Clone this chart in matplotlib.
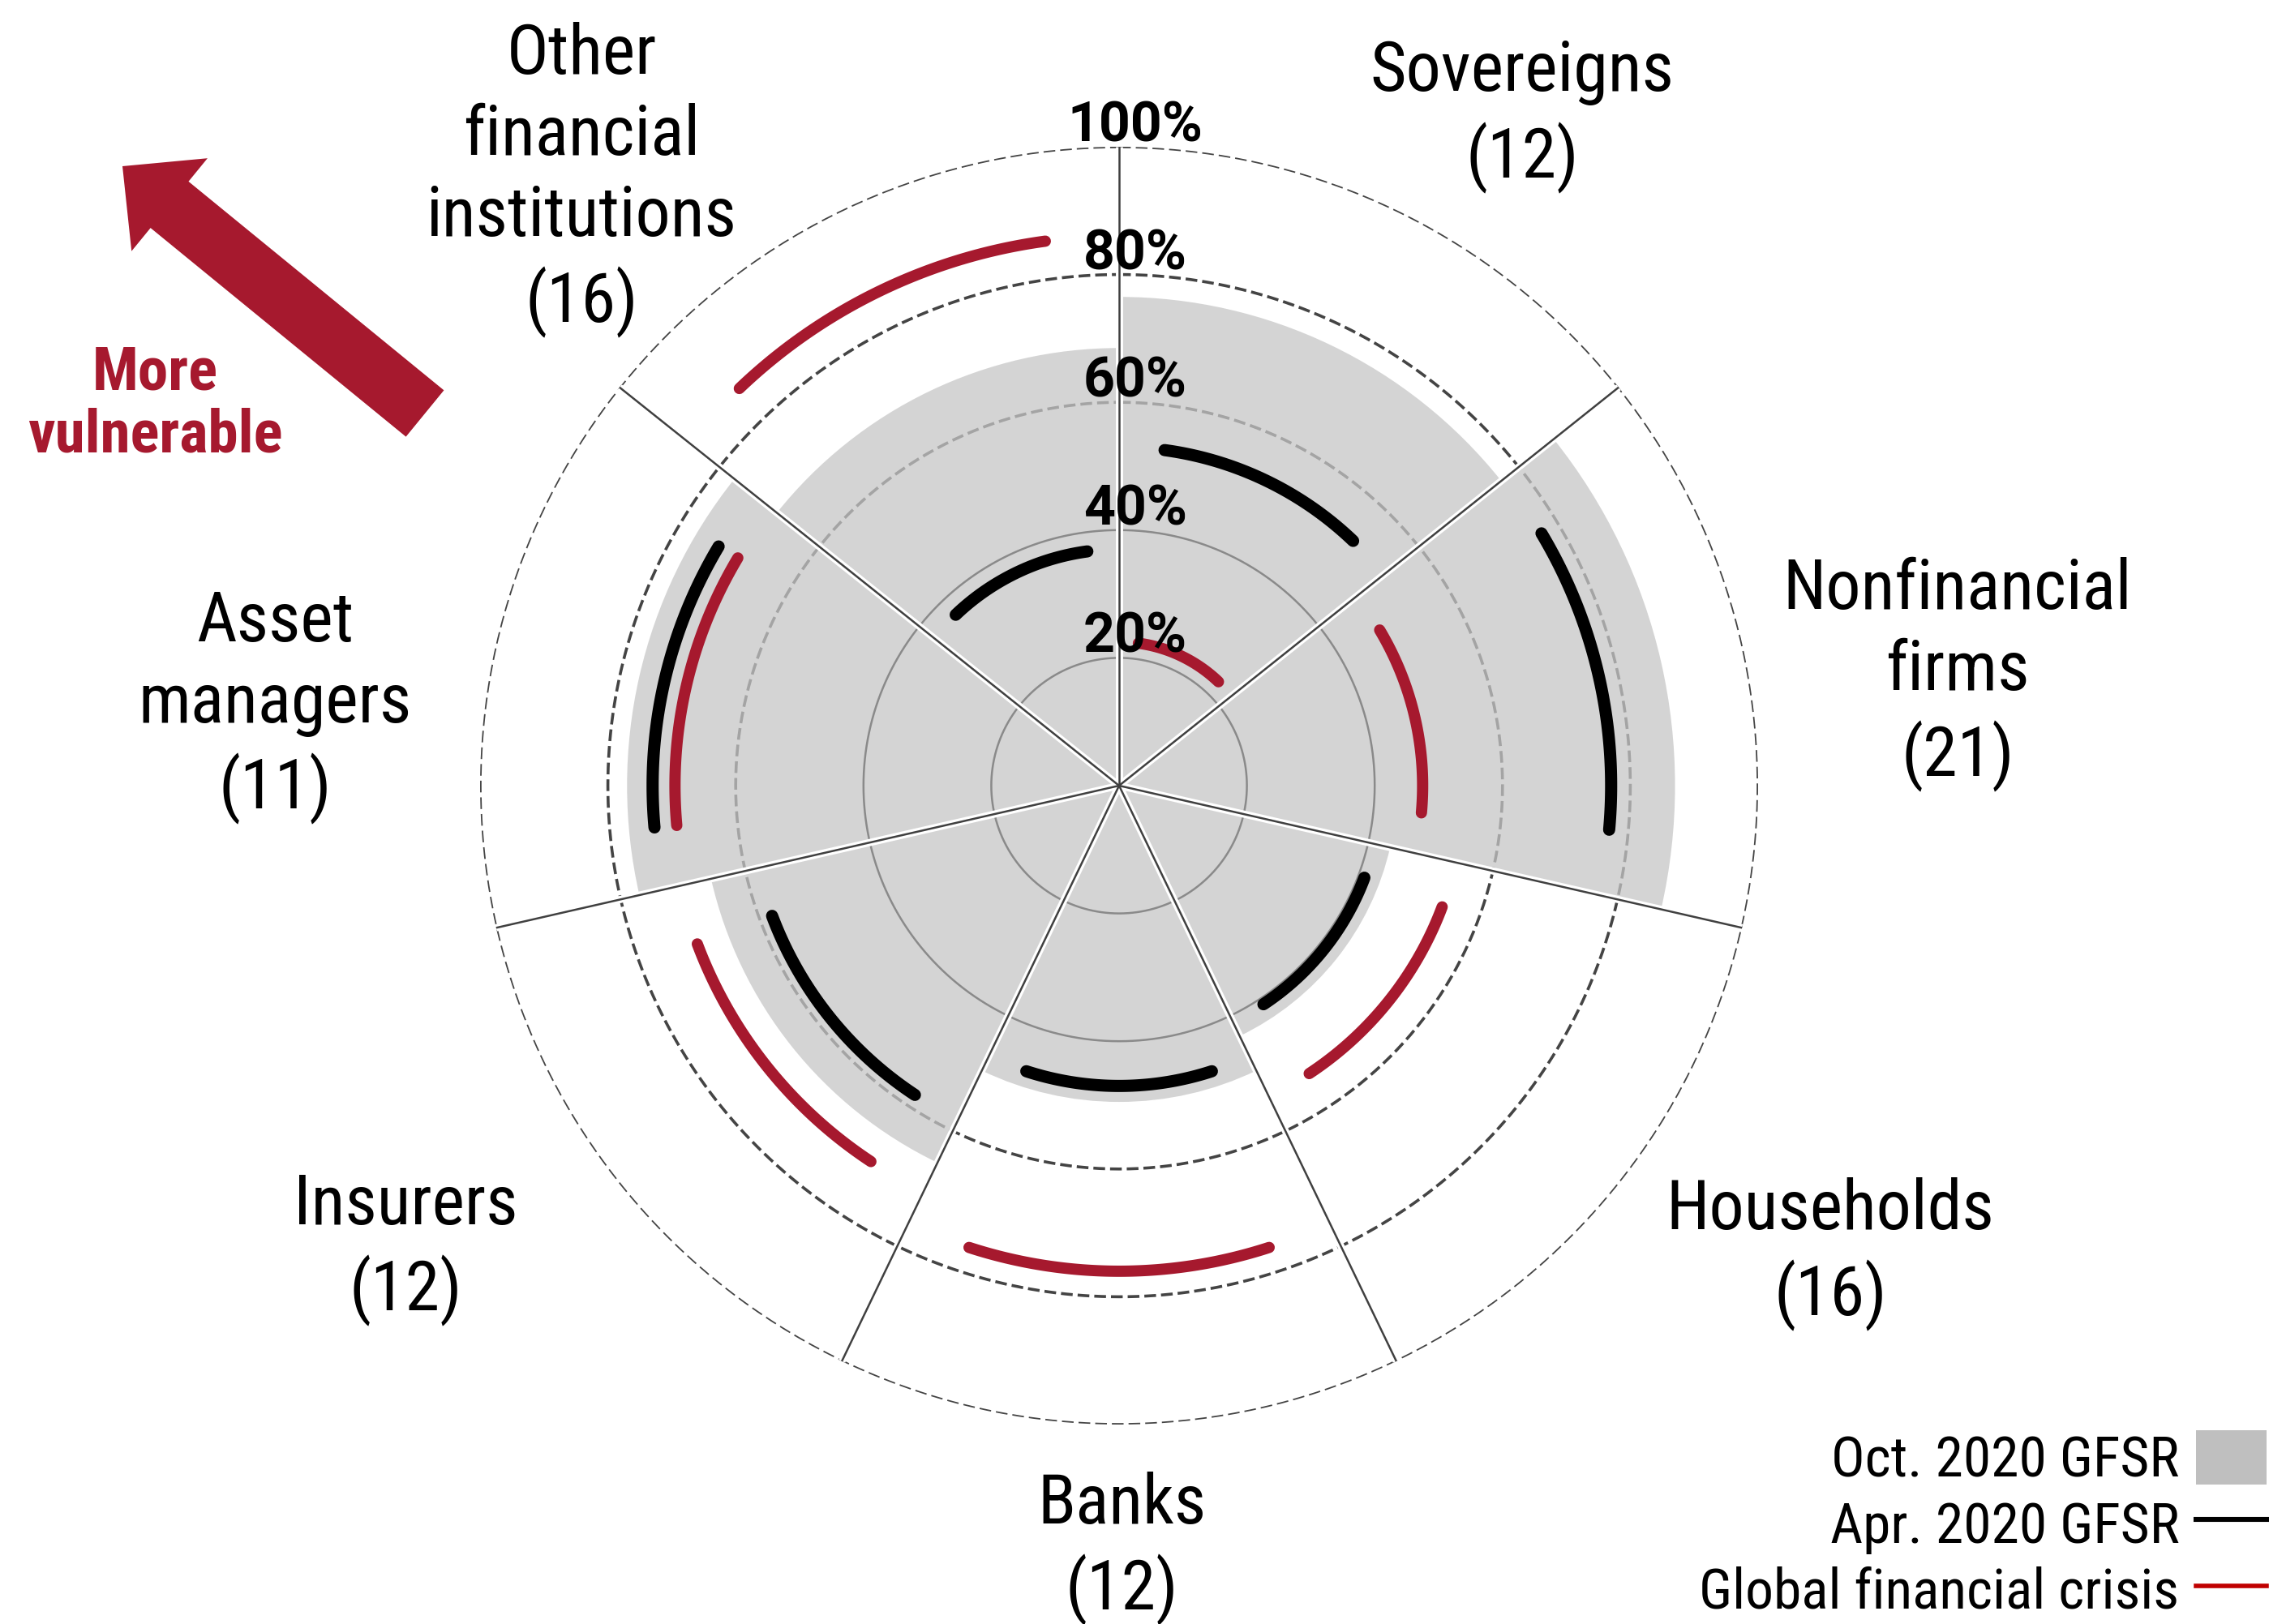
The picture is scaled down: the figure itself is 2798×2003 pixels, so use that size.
import numpy as np
import matplotlib
matplotlib.use("Agg")
import matplotlib.pyplot as plt
from matplotlib import transforms
from matplotlib.patches import FancyArrow, Patch
from matplotlib.lines import Line2D

# === DATA: share of countries with elevated vulnerabilities (%) ===
sectors = [
    "Sovereigns\n(12)", "Nonfinancial\nfirms\n(21)", "Households\n(16)", "Banks\n(12)",
    "Insurers\n(12)", "Asset\nmanagers\n(11)", "Other\nfinancial\ninstitutions\n(16)",
]
oct_2020 = [76.5, 87, 43.5, 49.5, 65.5, 77, 68.5]
apr_2020 = [53, 77, 41, 47, 58, 73, 37]
gfc = [22.5, 47.5, 54, 76, 70.5, 69.5, 86]
ring_ticks = [20, 40, 60, 80, 100]
legend_labels = ["Oct. 2020 GFSR", "Apr. 2020 GFSR", "Global financial crisis"]

# === LAYOUT (pixels of the 2798 x 2003 canvas) ===
W, H, DPI = 2798, 2003, 200
CX, CY, R = 1380, 969, 788
label_pos = [(1877, 144), (2414, 832), (2257, 1547), (1383, 1910),
             (500, 1541), (339, 872), (717, 222)]

GRAY = "#c6c6c6"
RED = "#a6192e"
# narrow sans first, the rest only as fallbacks
NARROW = ["Liberation Sans Narrow", "Roboto Condensed", "Arial Narrow", "Roboto", "DejaVu Sans"]
PCT_FONT = ["Roboto", "Liberation Sans", "DejaVu Sans"]


def fx(x):
    return x / W


def fy(y):
    return 1 - y / H


fig = plt.figure(figsize=(W / DPI, H / DPI), dpi=DPI)
fig.patch.set_facecolor("white")

# overlay axes in pixel coordinates for the annotations
over = fig.add_axes([0, 0, 1, 1])
over.set_xlim(0, W)
over.set_ylim(H, 0)
over.axis("off")

ax = fig.add_axes([fx(CX - R), fy(CY + R), 2 * R / W, 2 * R / H], projection="polar")
ax.set_theta_zero_location("N")
ax.set_theta_direction(-1)
ax.set_ylim(0, 100)
ax.axis("off")

n = len(sectors)
step = 2 * np.pi / n
centers = (np.arange(n) + 0.5) * step
full = np.linspace(0, 2 * np.pi, 721)

# dashed rings below the shading
for t in ring_ticks[2:]:
    ax.plot(full, np.full_like(full, t), color="#444444", lw=1.3,
            ls=(0, (4.0, 1.7)), zorder=1)

ax.bar(centers, oct_2020, width=step, color=GRAY, alpha=0.74, linewidth=0, zorder=2)

for t in ring_ticks[:2]:
    ax.plot(full, np.full_like(full, t), color="#8a8a8a", lw=0.9, zorder=3)

# sector separators
for k in range(n):
    a = k * step
    ax.plot([a, a], [0, 100], color="white", lw=3.2, zorder=4, solid_capstyle="butt")
    ax.plot([a, a], [0, 100], color="#404040", lw=0.9, zorder=5)

half = np.deg2rad(18)
for i in range(n):
    th = np.linspace(centers[i] - half, centers[i] + half, 80)
    ax.plot(th, np.full_like(th, apr_2020[i]), color="black", lw=5.4,
            solid_capstyle="round", zorder=6)
    ax.plot(th, np.full_like(th, gfc[i]), color=RED, lw=5.0,
            solid_capstyle="round", zorder=6)

lab_tr = transforms.offset_copy(ax.transData, fig=fig, x=20, y=25, units="dots")
for t in ring_ticks:
    ax.text(0, t, f"{t}%", transform=lab_tr, ha="center", va="center",
            fontsize=24.5, fontweight="bold", family=PCT_FONT, zorder=7)

for name, (x, y) in zip(sectors, label_pos):
    over.text(x, y, name, ha="center", va="center", fontsize=31,
              family=NARROW, linespacing=1.3)

over.text(191, 499, "More\nvulnerable", ha="center", va="center", fontsize=27,
          fontweight="bold", color=RED, family=NARROW, linespacing=1.12)
over.add_patch(FancyArrow(524, 510, 151 - 524, 205 - 510, width=74, head_width=148,
                          head_length=75, length_includes_head=True,
                          color=RED, linewidth=0))

handles = [Patch(facecolor="#bfbfbf", edgecolor="none"),
           Line2D([], [], color="black", lw=2.2),
           Line2D([], [], color="#c00000", lw=2.0)]
fig.legend(handles, legend_labels, loc="lower right", markerfirst=False,
           bbox_to_anchor=(fx(2795), fy(1998)), bbox_transform=fig.transFigure,
           frameon=False, borderpad=0, borderaxespad=0, handlelength=1.25,
           handleheight=1.1, handletextpad=0.3, labelspacing=0.15,
           prop={"family": NARROW, "size": 25})

fig.savefig("out.png", dpi=DPI, facecolor="white")
